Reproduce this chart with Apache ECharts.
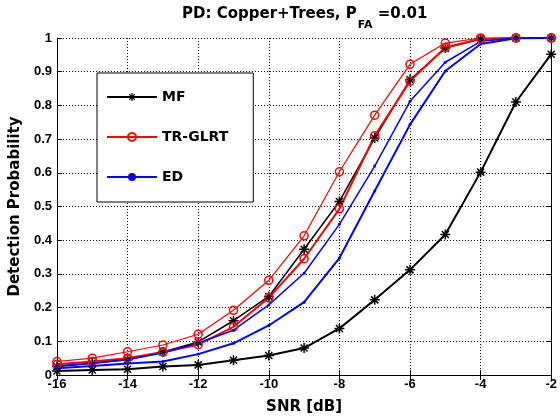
<!DOCTYPE html>
<html>
<head>
<meta charset="utf-8">
<script src="https://cdn.jsdelivr.net/npm/echarts@6/dist/echarts.min.js"></script>
<style>html,body{margin:0;padding:0;background:#fff}#c{width:560px;height:420px}</style>
</head>
<body>
<div id="c"></div>
<script>
const snr = [-16, -15, -14, -13, -12, -11, -10, -9, -8, -7, -6, -5, -4, -3, -2];
const mfA = [0.025, 0.035, 0.045, 0.068, 0.098, 0.161, 0.233, 0.373, 0.515, 0.703, 0.876, 0.970, 0.997, 1.0, 1.0];
const mfB = [0.012, 0.015, 0.017, 0.025, 0.030, 0.044, 0.058, 0.080, 0.138, 0.223, 0.312, 0.417, 0.602, 0.810, 0.952];
const trA = [0.040, 0.050, 0.069, 0.089, 0.121, 0.192, 0.281, 0.413, 0.603, 0.771, 0.922, 0.985, 1.0, 1.0, 1.0];
const trB = [0.032, 0.040, 0.050, 0.068, 0.090, 0.143, 0.229, 0.345, 0.493, 0.710, 0.872, 0.972, 0.998, 1.0, 1.0];
const edA = [0.027, 0.035, 0.046, 0.065, 0.095, 0.133, 0.208, 0.302, 0.447, 0.620, 0.812, 0.928, 0.990, 1.0, 1.0];
const edB = [0.020, 0.027, 0.034, 0.040, 0.062, 0.094, 0.147, 0.216, 0.347, 0.546, 0.743, 0.902, 0.982, 0.999, 1.0];
const xTicks = [-16, -14, -12, -10, -8, -6, -4, -2];

const pair = ys => snr.map((x, i) => [x, ys[i]]);
const star = 'path://M0,8.5L20,8.5L20,11.5L0,11.5ZM8.5,0L11.5,0L11.5,20L8.5,20ZM4.06,1.94L18.06,15.94L15.94,18.06L1.94,4.06ZM15.94,1.94L18.06,4.06L4.06,18.06L1.94,15.94Z';
const F = 'DejaVu Sans';
const TF = 'Liberation Sans';

function mk(name, ys, color, width, symbol, size, hollow) {
  return {
    type: 'line', name: name, data: pair(ys),
    xAxisIndex: 0, yAxisIndex: 0,
    symbol: symbol, symbolSize: size, showSymbol: true,
    lineStyle: { color: color, width: width },
    itemStyle: hollow ? { color: 'rgba(255,255,255,0)', borderColor: color, borderWidth: 1.5 } : { color: color },
    emphasis: { disabled: true }, silent: true
  };
}

const chart = echarts.init(document.getElementById('c'), null, { renderer: 'canvas' });
const axisCommon = {
  type: 'value',
  axisLine: { show: true, lineStyle: { color: '#000', width: 1 } },
  axisTick: { show: true, inside: true, length: 5, lineStyle: { color: '#000' } }
};
chart.setOption({
  animation: false,
  backgroundColor: '#fff',
  title: {
    text: '{a|PD: Copper+Trees, P}{b|FA}{a| =0.01}',
    left: 177, top: 2,
    textStyle: {
      rich: {
        a: { fontFamily: F, fontWeight: 'bold', fontSize: 15, color: '#000', verticalAlign: 'top', lineHeight: 18 },
        b: { fontFamily: F, fontWeight: 'bold', fontSize: 11, color: '#000', verticalAlign: 'top', lineHeight: 11, padding: [13, 0, 0, 1] }
      }
    }
  },
  legend: {
    orient: 'vertical', left: 97, top: 73,
    padding: [17, 25, 18, 9],
    itemWidth: 50, itemHeight: 10, itemGap: 26,
    borderColor: '#000', borderWidth: 1, backgroundColor: '#fff',
    textStyle: { fontFamily: F, fontWeight: 'bold', fontSize: 14, color: '#000' },
    data: ['MF', 'TR-GLRT', 'ED']
  },
  grid: { left: 54, right: 6, top: 38, bottom: 45, containLabel: false },
  xAxis: [
    Object.assign({}, axisCommon, {
      min: -16, max: -2, interval: 2,
      name: 'SNR [dB]', nameLocation: 'middle', nameGap: 25,
      nameTextStyle: { fontFamily: F, fontWeight: 'bold', fontSize: 15, color: '#000' },
      axisLabel: { fontFamily: TF, fontWeight: 'bold', fontSize: 13, color: '#000', margin: 3,
        customValues: xTicks },
      splitLine: { show: true, lineStyle: { color: '#000', width: 1, type: [1, 2] } }
    }),
    Object.assign({}, axisCommon, {
      position: 'top', min: -16, max: -2, interval: 2,
      axisLabel: { show: false }, splitLine: { show: false }
    })
  ],
  yAxis: [
    Object.assign({}, axisCommon, {
      min: 0, max: 1, interval: 0.1,
      name: 'Detection Probability', nameLocation: 'middle', nameGap: 32,
      nameTextStyle: { fontFamily: F, fontWeight: 'bold', fontSize: 15, color: '#000' },
      axisLabel: { fontFamily: TF, fontWeight: 'bold', fontSize: 13, color: '#000', margin: 5,
        formatter: v => (v === 0 ? '0' : v === 1 ? '1' : v.toFixed(1)) },
      splitLine: { show: true, lineStyle: { color: '#000', width: 1, type: [1, 2] } }
    }),
    Object.assign({}, axisCommon, {
      position: 'right', min: 0, max: 1, interval: 0.1,
      axisLabel: { show: false }, splitLine: { show: false }
    })
  ],
  series: [
    mk('MF', mfA, '#000', 1.5, star, 10, false),
    mk('MF', mfB, '#000', 2, star, 10, false),
    mk('TR-GLRT', trA, '#ff0000', 1.2, 'circle', 8, true),
    mk('TR-GLRT', trB, '#ff0000', 2, 'circle', 8, true),
    mk('ED', edA, '#0000ff', 1.5, 'circle', 3, false),
    mk('ED', edB, '#0000ff', 2, 'circle', 3, false)
  ]
});
</script>
</body>
</html>
